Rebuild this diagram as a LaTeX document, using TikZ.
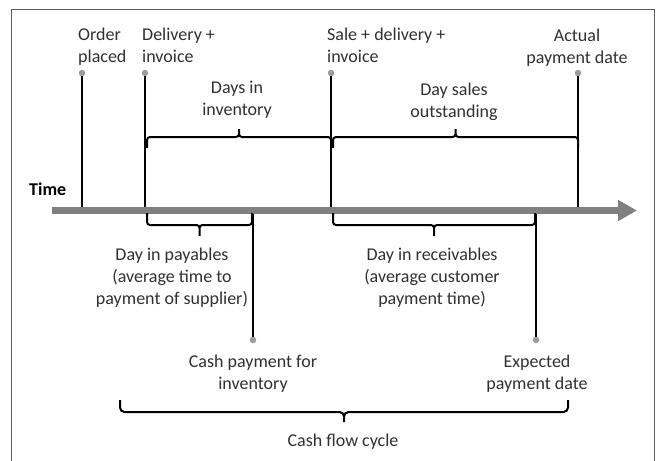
\documentclass[tikz,border=0pt]{standalone}
\usepackage{fontspec}
\setmainfont{Carlito}
\usetikzlibrary{calc,arrows.meta}
\definecolor{txt}{HTML}{303030}
\definecolor{axis}{HTML}{808080}
\definecolor{dotc}{HTML}{9C9C9C}
\definecolor{framec}{HTML}{5E5E5E}
\begin{document}
\begin{tikzpicture}[x=1pt,y=-1pt,
  lbl/.style={font=\fontsize{18}{22}\selectfont, text=txt, inner sep=0pt},
  mark line/.style={line width=1.6pt, black},
  event dot/.style={circle, fill=dotc, inner sep=0pt, minimum size=6.5pt},
  timeline/.style={line width=7pt, axis, -{Triangle[length=19pt,width=20pt]}},
  bracket/.style={line width=2pt, black, rounded corners=3pt},
  curly/.style 2 args={to path={
    (\tikztostart) -- ++(0,#1) -| ($(\tikztostart)!.5!(\tikztotarget)+(0,#2)$)
    (\tikztotarget) -- ++(0,#1) -| ($(\tikztostart)!.5!(\tikztotarget)+(0,#2)$)}},
  framing/.style={line width=1pt, framec}]
\useasboundingbox (0,0) rectangle (657,461);

% outer frame
\draw[framing] (11,470) -- (11,9) -- (654,9) -- (654,470);

% event markers on the time axis
\coordinate (tOrder)  at (82,210.5);
\coordinate (tDeliv)  at (145,210.5);
\coordinate (tSale)   at (331,210.5);
\coordinate (tActual) at (578,210.5);
\coordinate (tCash)   at (253,210.5);
\coordinate (tExp)    at (536,210.5);

\node[event dot] (dOrder)  at (82,73) {};
\node[event dot] (dDeliv)  at (145,73) {};
\node[event dot] (dSale)   at (331,73) {};
\node[event dot] (dActual) at (578,73) {};
\node[event dot] (dCash)   at (253,340) {};
\node[event dot] (dExp)    at (536,340) {};

\draw[mark line] (dOrder.south) -- (tOrder);
\draw[mark line] (dDeliv.south) -- (tDeliv);
\draw[mark line] (dSale.south) -- (tSale);
\draw[mark line] (dActual.south) -- (tActual);
\draw[mark line] (tCash) -- (dCash.north);
\draw[mark line] (tExp) -- (dExp.north);

% time axis
\coordinate (axisStart) at (52,210.5);
\coordinate (axisEnd)   at (637,210.5);
\draw[timeline] (axisStart) -- (axisEnd);
\node[lbl, font=\fontsize{18}{22}\selectfont\bfseries, anchor=base west, text=black] (time) at (29,195) {Time};

% event labels
\node[lbl, align=left, anchor=north west] (order)  at (78,28)  {Order\\placed};
\node[lbl, align=left, anchor=north west] (deliv)  at (142,28) {Delivery +\\invoice};
\node[lbl, align=left, anchor=north west] (sale)   at (327,28) {Sale + delivery +\\invoice};
\node[lbl, align=center, anchor=north]    (actual) at (577,29) {Actual\\payment date};
\node[lbl, align=center, anchor=north]    (cash)   at (253,355) {Cash payment for\\inventory};
\node[lbl, align=center, anchor=north]    (exp)    at (537,355) {Expected\\payment date};

% period brackets
\coordinate (invL) at (147,148);  \coordinate (invR) at (331,148);
\coordinate (dsoL) at (333,148);  \coordinate (dsoR) at (578,148);
\coordinate (payL) at (147,213);  \coordinate (payR) at (252,213);
\coordinate (recL) at (333,213);  \coordinate (recR) at (535,213);
\coordinate (cycL) at (120,400);  \coordinate (cycR) at (568,400);

\draw[bracket] (invL) to[curly={-11}{-19}] (invR);
\draw[bracket] (dsoL) to[curly={-11}{-19}] (dsoR);
\draw[bracket] (payL) to[curly={12}{23}] (payR);
\draw[bracket] (recL) to[curly={12}{23}] (recR);
\draw[bracket, rounded corners=4.5pt] (cycL) to[curly={12}{22}] (cycR);

% period labels
\node[lbl, align=center, anchor=north] (inv) at (237,81)  {Days in\\inventory};
\node[lbl, align=center, anchor=north] (dso) at (454,83)  {Day sales\\outstanding};
\node[lbl, align=center, anchor=north] (pay) at (172,248) {Day in payables\\(average time to\\payment of supplier)};
\node[lbl, align=center, anchor=north] (rec) at (432,248) {Day in receivables\\(average customer\\payment time)};
\node[lbl, anchor=base] (cycle) at (343,446) {Cash flow cycle};
\end{tikzpicture}
\end{document}
